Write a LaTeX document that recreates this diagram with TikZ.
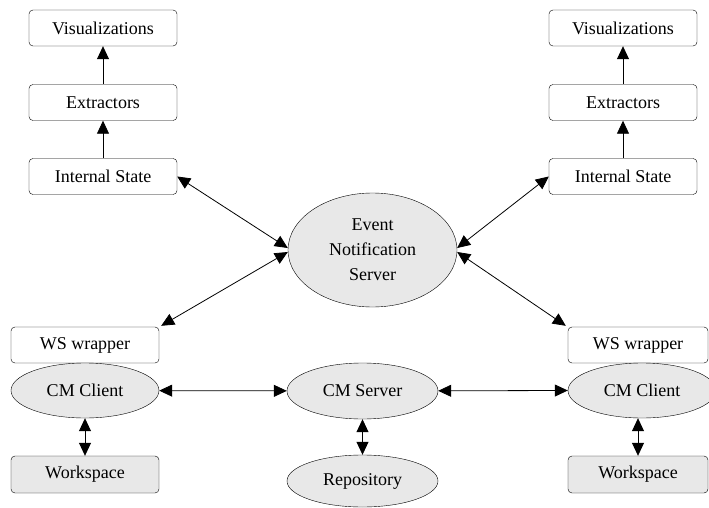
\documentclass[tikz,border=0pt]{standalone}
\usepackage{fontspec}
\setmainfont{Liberation Serif}
\usetikzlibrary{shapes.geometric,arrows.meta}

\definecolor{nodegray}{gray}{0.91}

\begin{document}
\begin{tikzpicture}[x=1pt,y=-1pt,
  box/.style={draw,rounded corners=4pt,minimum width=148pt,minimum height=36pt,
    inner sep=0pt,font=\fontsize{18}{21}\selectfont},
  graybox/.style={box,fill=nodegray},
  blob/.style={draw,ellipse,fill=nodegray,inner sep=0pt,
    font=\fontsize{18}{21}\selectfont},
  link/.style={line width=0.8pt,-{Triangle[length=13pt,width=12pt]}},
  twoway/.style={line width=0.8pt,{Triangle[length=13pt,width=12pt]}-{Triangle[length=13pt,width=12pt]}}]

% page frame (pixels of the reference)
\useasboundingbox (0,0) rectangle (709,508);
\clip (0,0) rectangle (709,508);

% left column
\node[box] (visL) at (103,28) {Visualizations};
\node[box] (extL) at (103,102.5) {Extractors};
\node[box] (isL) at (103,176.5) {Internal State};

% right column
\node[box] (visR) at (623,28) {Visualizations};
\node[box] (extR) at (623,102.5) {Extractors};
\node[box] (isR) at (623,176.5) {Internal State};

% server in the middle
\node[blob,minimum width=169pt,minimum height=114pt,align=center] (ens) at (372.5,250)
  {Event\\[4pt]Notification\\[4pt]Server};

% bottom row
\node[box] (wsL) at (85,345) {WS wrapper};
\node[blob,minimum width=148pt,minimum height=55pt] (cmL) at (85,390.5) {CM Client};
\node[graybox,minimum height=37pt] (wkL) at (85,474.5) {Workspace};

\node[box,minimum width=140pt] (wsR) at (638,345) {WS wrapper};
\node[blob,minimum width=148pt,minimum height=55pt] (cmR) at (642,390.5) {CM Client};
\node[graybox,minimum width=140pt,minimum height=37pt] (wkR) at (638,474.5) {Workspace};

\node[blob,minimum width=151pt,minimum height=56pt] (cms) at (362.5,391) {CM Server};
\node[blob,minimum width=151pt,minimum height=52pt] (repo) at (362.5,481) {Repository};

% up the columns
\draw[link] (isL) -- (extL);
\draw[link] (extL) -- (visL);
\draw[link] (isR) -- (extR);
\draw[link] (extR) -- (visR);

% to and from the notification server
\draw[twoway] (isL.east) -- ([yshift=2pt]ens.west);
\draw[twoway] ([yshift=-2pt]ens.west) -- ([shift={(2pt,1pt)}]wsL.north east);
\draw[twoway] (isR.west) -- ([yshift=2pt]ens.east);
\draw[twoway] ([yshift=-2pt]ens.east) -- ([shift={(-2pt,1pt)}]wsR.north west);

% CM links
\draw[twoway] (cmL) -- (cms);
\draw[twoway] (cms) -- (cmR.west);
\draw[twoway] (cmL) -- (wkL);
\draw[twoway] (cmR.south -| wkR) -- (wkR);
\draw[twoway] (cms) -- (repo);

\end{tikzpicture}
\end{document}
